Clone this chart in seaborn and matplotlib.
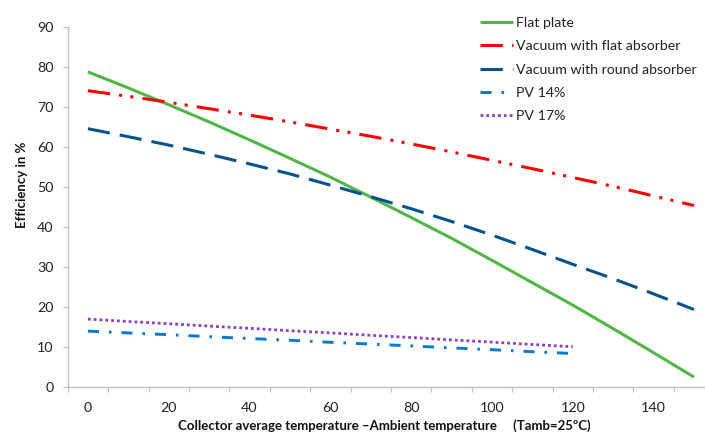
import matplotlib
matplotlib.use("Agg")
import matplotlib.pyplot as plt
import seaborn as sns
import pandas as pd
from matplotlib.ticker import FixedLocator

# ---- data ----
temps = [0, 10, 20, 30, 40, 50, 60, 70, 80, 90, 100, 110, 120, 130, 140, 150]
flat_plate = [78.7, 74.7, 70.5, 66.2, 61.7, 57.1, 52.4, 47.4, 42.3, 37.1, 31.6, 26.0, 20.4, 14.5, 8.5, 2.4]
vac_flat = [74.0, 72.6, 71.1, 69.5, 67.9, 66.2, 64.4, 62.6, 60.7, 58.7, 56.6, 54.5, 52.3, 50.1, 47.7, 45.3]
vac_round = [64.5, 62.5, 60.4, 58.1, 55.7, 53.2, 50.4, 47.5, 44.5, 41.3, 37.9, 34.3, 30.6, 27.0, 23.2, 19.3]
pv_temps = [0, 10, 20, 30, 40, 50, 60, 70, 80, 90, 100, 110, 120]
pv14 = [13.9, 13.45, 13.0, 12.5, 12.05, 11.6, 11.1, 10.65, 10.2, 9.7, 9.25, 8.75, 8.3]
pv17 = [16.9, 16.3, 15.75, 15.15, 14.6, 14.0, 13.45, 12.85, 12.3, 11.7, 11.15, 10.55, 10.0]
x_tick_labels = ["0", "20", "40", "60", "80", "100", "120", "140"]
y_ticks = [0, 10, 20, 30, 40, 50, 60, 70, 80, 90]

series = [
    ("Flat plate", temps, flat_plate, "#52b548", "-", 2.2),
    ("Vacuum with flat absorber", temps, vac_flat, "#ff0000", (0, (7.3, 3.0, 1.0, 2.7, 1.0, 3.0)), 2.2),
    ("Vacuum with round absorber", temps, vac_round, "#05528c", (0, (7.3, 3.3)), 2.2),
    ("PV 14%", pv_temps, pv14, "#0579d4", (0, (3.8, 3.4, 0.9, 3.4)), 2.1),
    ("PV 17%", pv_temps, pv17, "#8a3cc4", (0, (1.0, 1.1)), 2.0),
]

sns.set_style("white")
plt.rcParams["font.family"] = ["Lato", "DejaVu Sans"]

W, H = 705, 432
fig = plt.figure(figsize=(W / 100, H / 100), dpi=100)
ax_left, ax_bottom, ax_top, ax_right = 67.7, 386.7, 26.7, 705
ax = fig.add_axes([ax_left / W, (H - ax_bottom) / H, (ax_right - ax_left) / W, (ax_bottom - ax_top) / H])

for name, xs, ys, color, ls, lw in series:
    df = pd.DataFrame({"x": xs, "y": ys})
    sns.lineplot(data=df, x="x", y="y", ax=ax, color=color, linestyle=ls,
                 linewidth=lw, label=name)

for line in ax.get_lines():
    line.set_dash_capstyle("butt")
    line.set_solid_capstyle("butt")

ax.set_xlim(-5, (705 - 88) / 4.04)
ax.set_ylim(0, 90)

gray = "#bfbfbf"
for s in ["top", "right"]:
    ax.spines[s].set_visible(False)
for s in ["left", "bottom"]:
    ax.spines[s].set_color(gray)
    ax.spines[s].set_linewidth(1.0)

label_pos = [int(v) for v in x_tick_labels]
ax.xaxis.set_major_locator(FixedLocator(label_pos))
ax.set_xticklabels(x_tick_labels)
ax.xaxis.set_minor_locator(FixedLocator([t - 5 for t in temps]))
ax.tick_params(axis="x", which="major", length=0, pad=11, labelsize=10.3, labelcolor="#222222")
ax.tick_params(axis="x", which="minor", length=3.6, width=0.8, color=gray, direction="out", bottom=True)
ax.set_yticks(y_ticks)
ax.tick_params(axis="y", which="major", length=3.6, width=0.8, color=gray, direction="out",
               pad=6.5, labelsize=10.3, labelcolor="#222222", left=True)

ax.set_xlabel("")
ax.set_ylabel("")
fig.text(21.7 / W, 1 - 185 / H, "Efficiency in %", rotation=90, ha="center", va="center",
         fontsize=9.5, fontweight="bold", color="#111111")
fig.text(384 / W, 1 - 426 / H,
         "Collector average temperature \u2013Ambient temperature     (Tamb=25\u00baC)",
         ha="center", va="center", fontsize=9.5, fontweight="bold", color="#111111")

leg = ax.legend(loc="upper left", bbox_to_anchor=(480 / W, 1 - 17 / H), bbox_transform=fig.transFigure,
                frameon=False, fontsize=10.2, handlelength=2.35, handletextpad=0.22,
                labelspacing=0.8, borderaxespad=0, borderpad=0)
for t in leg.get_texts():
    t.set_color("#222222")

fig.savefig("out.png", dpi=100)
